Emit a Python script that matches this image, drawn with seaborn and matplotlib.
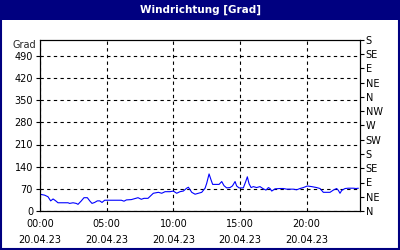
import matplotlib
matplotlib.use("Agg")
import matplotlib.pyplot as plt
import matplotlib.patches as patches
import seaborn as sns
import pandas as pd
import numpy as np

hours = [0.0, 0.35, 0.6, 0.8, 0.98, 1.15, 1.35, 1.72, 2.1, 2.22, 2.48, 2.72, 2.85, 3.1, 3.3, 3.55,
         3.73, 3.9, 4.1, 4.3, 4.48, 4.65, 4.85, 5.1, 6.1, 6.3, 6.48, 6.85, 7.1, 7.35, 7.6, 7.8,
         8.1, 8.5, 8.88, 9.13, 9.38, 9.75, 10.0, 10.25, 10.5, 10.75, 11.0, 11.13, 11.38, 11.63,
         11.88, 12.13, 12.38, 12.5, 12.68, 12.83, 12.95, 13.25, 13.43, 13.63, 13.8, 14.0, 14.25,
         14.43, 14.63, 14.75, 14.93, 15.13, 15.25, 15.43, 15.55, 15.68, 15.83, 16.0, 16.25, 16.5,
         16.75, 16.95, 17.13, 17.25, 17.38, 17.63, 18.0, 18.25, 18.5, 19.0, 19.25, 19.5, 19.75,
         20.05, 20.38, 20.75, 21.0, 21.25, 21.75, 22.0, 22.25, 22.38, 22.5, 22.63, 22.88, 23.13,
         23.5, 23.7, 23.88]
grad = [53, 50, 45, 32, 38, 33, 26, 26, 26, 24, 26, 24, 21, 32, 42, 42,
        32, 24, 27, 32, 32, 27, 34, 34, 34, 31, 35, 36, 39, 42, 37, 40,
        40, 56, 59, 56, 61, 61, 63, 56, 61, 63, 72, 75, 59, 53,
        56, 59, 72, 87, 117, 98, 84, 84, 84, 93, 80, 73, 74,
        79, 93, 79, 73, 73, 73, 93, 108, 86, 74, 77, 74, 77,
        70, 66, 74, 71, 63, 70, 71, 71, 69, 69, 67, 71, 74,
        79, 77, 74, 71, 59, 59, 66, 71, 65, 56, 65, 71, 72,
        72, 71, 72]

left_ticks = [0, 70, 140, 210, 280, 350, 420, 490]
right_ticks = [0, 45, 90, 135, 180, 225, 270, 315, 360, 405, 450, 495, 540]
right_labels = ["N", "NE", "E", "SE", "S", "SW", "W", "NW", "N", "NE", "E", "SE", "S"]
x_ticks = [0, 5, 10, 15, 20]
x_labels = ["00:00\n20.04.23", "05:00\n20.04.23", "10:00\n20.04.23", "15:00\n20.04.23", "20:00\n20.04.23"]

sns.set_style("white")
plt.rcParams['font.family'] = ['DejaVu Sans']

df = pd.DataFrame({"hour": hours, "grad": grad})

fig = plt.figure(figsize=(4, 2.5), dpi=100)
fig.patch.set_facecolor("white")
# title bar and border
fig.add_artist(patches.Rectangle((0, 1 - 20 / 250), 1, 20 / 250, transform=fig.transFigure,
                                 facecolor="#000080", edgecolor="none", zorder=0))
fig.add_artist(patches.Rectangle((0.5 / 400, 1 / 250), 398.5 / 400, 240 / 250, transform=fig.transFigure,
                                 facecolor="none", edgecolor="#000080", linewidth=1.5, zorder=0))
fig.text(0.5, 1 - 10 / 250, "Windrichtung [Grad]", color="white", fontsize=7.5,
         fontweight="bold", ha="center", va="center")

ax = fig.add_axes([40 / 400, 1 - 211 / 250, 320 / 400, 171 / 250])
sns.lineplot(data=df, x="hour", y="grad", ax=ax, color="#0000FF", linewidth=0.8)
ax.set_xlim(0, 24)
ax.set_ylim(0, 540)
ax.set_xlabel("")
ax.set_ylabel("")
ax.set_yticks(left_ticks)
ax.set_yticklabels([str(v) for v in left_ticks], fontsize=7)
ax.set_xticks(x_ticks)
ax.set_xticklabels(x_labels, fontsize=7, linespacing=1.65)
ax.set_xticks(range(0, 25), minor=True)
ax.tick_params(axis="x", which="major", direction="out", length=3, width=0.8, pad=3, colors="black")
ax.tick_params(axis="x", which="minor", direction="out", length=3, width=0.8, colors="black")
ax.tick_params(axis="y", direction="out", length=3, width=0.8, pad=2, colors="black")
ax.grid(True, axis="both", which="major", color="black", linestyle=(0, (3, 3)), linewidth=0.8)
for s in ax.spines.values():
    s.set_color("black")
    s.set_linewidth(0.8)

ax2 = ax.twinx()
ax2.set_ylim(0, 540)
ax2.set_yticks(right_ticks)
ax2.set_yticklabels(right_labels, fontsize=7)
ax2.tick_params(axis="y", direction="out", length=3, width=0.8, pad=1, colors="black")
ax2.grid(False)
for s in ax2.spines.values():
    s.set_color("black")
    s.set_linewidth(0.8)

fig.text(36 / 400, 1 - 45 / 250, "Grad", fontsize=7, ha="right", va="center")

fig.savefig("out.png", dpi=100, facecolor="white")
